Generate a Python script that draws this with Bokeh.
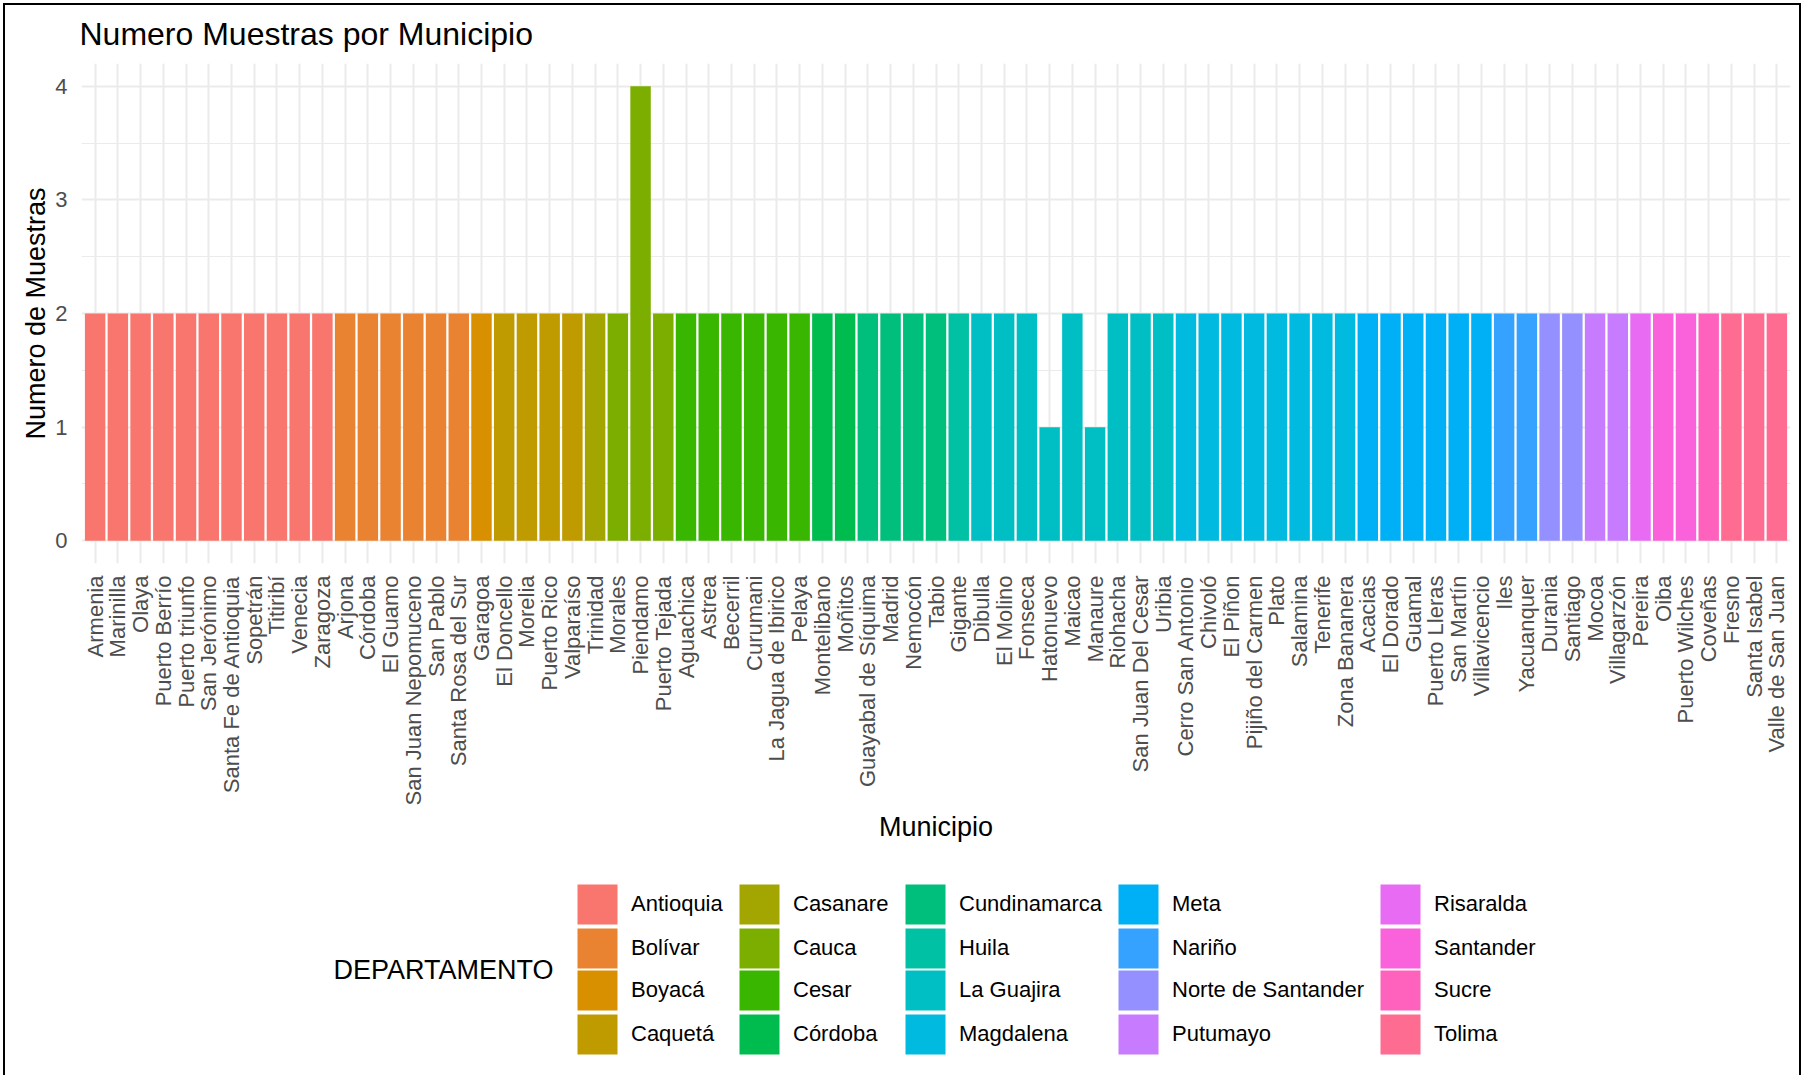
import math
from bokeh.plotting import figure
from bokeh.layouts import column
from bokeh.models import ColumnDataSource, FactorRange, Range1d, Legend, LegendItem, FixedTicker, Label
from bokeh.embed import file_html
from bokeh.resources import INLINE

municipios = [
    "Armenia", "Marinilla", "Olaya", "Puerto Berrío", "Puerto triunfo", "San Jerónimo",
    "Santa Fe de Antioquia", "Sopetrán", "Titiribí", "Venecia", "Zaragoza",
    "Arjona", "Córdoba", "El Guamo", "San Juan Nepomuceno", "San Pablo", "Santa Rosa del Sur",
    "Garagoa",
    "El Doncello", "Morelia", "Puerto Rico", "Valparaíso",
    "Trinidad",
    "Morales", "Piendamo", "Puerto Tejada",
    "Aguachica", "Astrea", "Becerril", "Curumani", "La Jagua de Ibirico", "Pelaya",
    "Montelibano", "Moñitos",
    "Guayabal de Síquima", "Madrid", "Nemocón", "Tabio",
    "Gigante",
    "Dibulla", "El Molino", "Fonseca", "Hatonuevo", "Maicao", "Manaure", "Riohacha",
    "San Juan Del Cesar", "Uribia",
    "Cerro San Antonio", "Chivoló", "El Piñon", "Pijiño del Carmen", "Plato", "Salamina",
    "Tenerife", "Zona Bananera",
    "Acacias", "El Dorado", "Guamal", "Puerto Lleras", "San Martín", "Villavicencio",
    "Iles", "Yacuanquer",
    "Durania", "Santiago",
    "Mocoa", "Villagarzón",
    "Pereira",
    "Oiba", "Puerto Wilches",
    "Coveñas",
    "Fresno", "Santa Isabel", "Valle de San Juan",
]

departamentos = (
    ["Antioquia"] * 11 + ["Bolívar"] * 6 + ["Boyacá"] * 1 + ["Caquetá"] * 4 +
    ["Casanare"] * 1 + ["Cauca"] * 3 + ["Cesar"] * 6 + ["Córdoba"] * 2 +
    ["Cundinamarca"] * 4 + ["Huila"] * 1 + ["La Guajira"] * 9 + ["Magdalena"] * 8 +
    ["Meta"] * 6 + ["Nariño"] * 2 + ["Norte de Santander"] * 2 + ["Putumayo"] * 2 +
    ["Risaralda"] * 1 + ["Santander"] * 2 + ["Sucre"] * 1 + ["Tolima"] * 3
)

muestras = [
    2, 2, 2, 2, 2, 2, 2, 2, 2, 2, 2,
    2, 2, 2, 2, 2, 2,
    2,
    2, 2, 2, 2,
    2,
    2, 4, 2,
    2, 2, 2, 2, 2, 2,
    2, 2,
    2, 2, 2, 2,
    2,
    2, 2, 2, 1, 2, 1, 2, 2, 2,
    2, 2, 2, 2, 2, 2, 2, 2,
    2, 2, 2, 2, 2, 2,
    2, 2,
    2, 2,
    2, 2,
    2,
    2, 2,
    2,
    2, 2, 2,
]

dept_order = [
    "Antioquia", "Bolívar", "Boyacá", "Caquetá", "Casanare", "Cauca", "Cesar", "Córdoba",
    "Cundinamarca", "Huila", "La Guajira", "Magdalena", "Meta", "Nariño",
    "Norte de Santander", "Putumayo", "Risaralda", "Santander", "Sucre", "Tolima",
]

palette = [
    "#F8766D", "#EA8331", "#D89000", "#C09B00", "#A3A500", "#7CAE00", "#39B600", "#00BB4E",
    "#00BF7D", "#00C1A3", "#00BFC4", "#00BAE0", "#00B0F6", "#35A2FF", "#9590FF", "#C77CFF",
    "#E76BF3", "#FA62DB", "#FF62BC", "#FF6C91",
]

y_ticks = [0, 1, 2, 3, 4]
y_minor = [0.5, 1.5, 2.5, 3.5]

color_of = dict(zip(dept_order, palette))
source = ColumnDataSource(dict(
    municipio=municipios,
    departamento=departamentos,
    muestras=muestras,
    color=[color_of[d] for d in departamentos],
))

FONT = "Liberation Sans"
W = 1802
H_MAIN = 850
H_LEG = 225

p = figure(
    width=W, height=H_MAIN,
    x_range=FactorRange(factors=municipios, range_padding=0.1, range_padding_units="absolute"),
    y_range=Range1d(-0.2, 4.2),
    output_backend="svg", toolbar_location=None,
    title="Numero Muestras por Municipio",
    min_border_left=81, min_border_right=12, min_border_top=63, min_border_bottom=H_MAIN - 563,
)
p.outline_line_color = None
p.background_fill_color = "white"
p.border_fill_color = "white"

r = p.vbar(x="municipio", top="muestras", bottom=0, width=0.9, source=source,
           fill_color="color", line_color=None)

p.title.text_font = FONT
p.title.text_font_size = "32px"
p.title.text_font_style = "normal"
p.title.text_color = "#000000"
p.title.standoff = 24
p.title.offset = -2

for ax in (p.xaxis[0], p.yaxis[0]):
    ax.axis_line_color = None
    ax.major_tick_line_color = None
    ax.minor_tick_line_color = None
    ax.major_tick_out = 0
    ax.major_tick_in = 0
    ax.minor_tick_out = 0
    ax.minor_tick_in = 0
    ax.major_label_text_font = FONT
    ax.major_label_text_font_size = "22px"
    ax.major_label_text_color = "#4D4D4D"
    ax.axis_label_text_font = FONT
    ax.axis_label_text_font_size = "27px"
    ax.axis_label_text_font_style = "normal"
    ax.axis_label_text_color = "#000000"

p.xaxis.axis_label = "Municipio"
p.xaxis.major_label_orientation = math.pi / 2
p.xaxis.major_label_standoff = 12
p.xaxis.axis_label_standoff = 4

p.yaxis.axis_label = "Numero de Muestras"
p.yaxis.ticker = FixedTicker(ticks=y_ticks, minor_ticks=y_minor)
p.yaxis.major_label_standoff = 14
p.yaxis.axis_label_standoff = 1

p.xgrid.grid_line_color = "#EBEBEB"
p.xgrid.grid_line_width = 2
p.ygrid.grid_line_color = "#EBEBEB"
p.ygrid.grid_line_width = 2
p.ygrid.minor_grid_line_color = "#EBEBEB"
p.ygrid.minor_grid_line_width = 1

# legend area (second figure, same data source, its glyph hidden)
p2 = figure(
    width=W, height=H_LEG,
    x_range=FactorRange(factors=municipios), y_range=Range1d(0, 5),
    x_axis_type=None, y_axis_type=None,
    output_backend="svg", toolbar_location=None,
    min_border_left=0, min_border_right=0, min_border_top=0, min_border_bottom=0,
)
p2.outline_line_color = None
p2.background_fill_color = "white"
p2.border_fill_color = "white"
p2.xgrid.visible = False
p2.ygrid.visible = False
r2 = p2.vbar(x="municipio", top="muestras", bottom=0, width=0.9, source=source,
             fill_color="color", line_color=None, visible=False)

col_x = [491, 653, 819, 1032, 1294]
row_y = [146, 102, 60, 16]
for k, d in enumerate(dept_order):
    c, rr = divmod(k, 4)
    leg = Legend(
        items=[LegendItem(label=d, renderers=[r2], index=departamentos.index(d))],
        location=(col_x[c], row_y[rr]),
        glyph_width=50, glyph_height=50, spacing=0, label_standoff=9,
        label_text_font=FONT, label_text_font_size="22px", label_text_color="#000000",
        label_height=50,
        padding=0, margin=0, border_line_color=None, background_fill_alpha=0,
    )
    p2.add_layout(leg, "center")

p2.add_layout(Label(
    x=252, y=106, x_units="screen", y_units="screen",
    text="DEPARTAMENTO", text_font=FONT, text_font_size="27px",
    text_color="#000000", text_baseline="middle", text_align="left",
))

layout = column(p, p2, spacing=0)
layout.stylesheets = [
    ":host::after { content: ''; position: absolute; left: 3px; top: 3px; right: 1px; bottom: 0px;"
    " border-style: solid; border-color: #000000; border-width: 2px 2px 0 2px;"
    " pointer-events: none; z-index: 10; }"
]

open("out.html", "w").write(file_html(layout, INLINE))
